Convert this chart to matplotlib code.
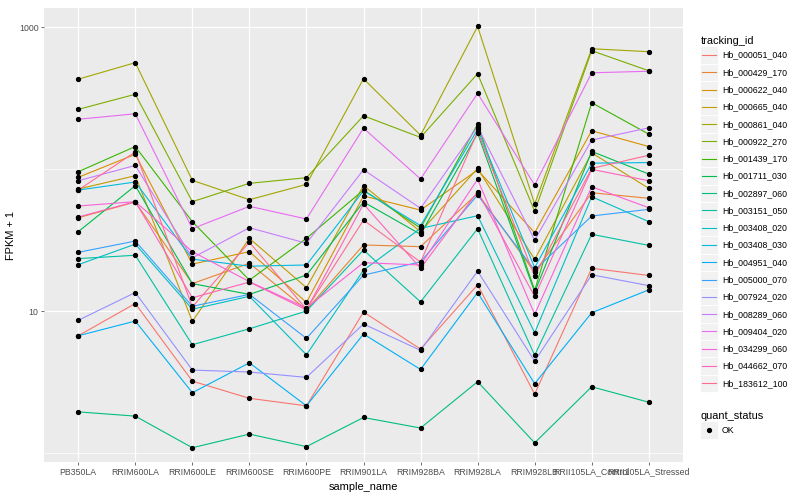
import numpy as np
import matplotlib
matplotlib.use('Agg')
import matplotlib.pyplot as plt
from matplotlib.lines import Line2D
from matplotlib.patches import Rectangle
from matplotlib.legend_handler import HandlerBase
from matplotlib.ticker import FixedLocator, NullFormatter

plt.rcParams['font.family'] = ['Liberation Sans', 'DejaVu Sans']

samples = ['PB350LA', 'RRIM600LA', 'RRIM600LE', 'RRIM600SE', 'RRIM600PE',
           'RRIM901LA', 'RRIM928BA', 'RRIM928LA', 'RRIM928LB',
           'RRII105LA_Control', 'RRII105LA_Stressed']

# FPKM + 1
hb_000051_040 = [6.70, 11.3, 3.21, 2.43, 2.15, 9.84, 5.40, 15.3, 2.60, 20.0, 17.8]
hb_000429_170 = [45.4, 58.6, 15.6, 21.7, 10.2, 29.2, 28.4, 67.4, 18.7, 68.1, 62.2]
hb_000622_040 = [87.4, 127, 21.4, 26.2, 11.5, 64.6, 51.4, 98.4, 35.6, 186, 144]
hb_000665_040 = [72.3, 89.7, 8.46, 32.5, 14.6, 76.5, 36.2, 101, 23.1, 130, 73.1]
hb_000861_040 = [429, 561, 83.2, 60.8, 78.0, 432, 173, 1010, 56.7, 703, 670]
hb_000922_270 = [263, 336, 58.9, 79.3, 86.9, 237, 167, 469, 50.4, 681, 492]
hb_001439_170 = [95.7, 144, 42.6, 16.5, 32.5, 71.1, 38.4, 207, 14.0, 293, 176]
hb_001711_030 = [36.2, 76.3, 15.6, 13.1, 17.9, 58.6, 34.7, 178, 13.6, 133, 92.2]
hb_002897_060 = [1.95, 1.82, 1.09, 1.36, 1.11, 1.78, 1.50, 3.18, 1.18, 2.93, 2.28]
hb_003151_050 = [23.4, 24.7, 5.79, 7.50, 10.0, 26.9, 11.6, 38.0, 4.88, 34.7, 29.0]
hb_003408_020 = [21.2, 29.6, 10.3, 12.7, 4.92, 19.4, 38.2, 46.9, 7.03, 63.8, 42.6]
hb_003408_030 = [71.1, 81.0, 23.2, 20.7, 21.1, 70.3, 39.9, 190, 20.2, 110, 111]
hb_004951_040 = [6.70, 8.50, 2.66, 4.32, 2.15, 6.89, 3.88, 13.5, 3.08, 9.73, 14.1]
hb_005000_070 = [25.9, 31.1, 10.8, 13.1, 6.42, 17.9, 22.2, 65.6, 19.4, 46.7, 52.0]
hb_007924_020 = [8.60, 13.5, 3.84, 3.72, 3.41, 8.10, 5.29, 19.1, 4.44, 18.0, 15.1]
hb_008289_060 = [82.7, 106, 23.7, 38.6, 30.0, 98.9, 52.9, 199, 31.6, 160, 195]
hb_009404_020 = [224, 245, 38.0, 54.6, 44.5, 194, 85.1, 341, 77.1, 476, 488]
hb_034299_060 = [54.9, 58.9, 26.2, 16.1, 10.5, 21.9, 21.1, 84.6, 9.48, 75.0, 53.4]
hb_044662_070 = [45.9, 58.9, 12.4, 16.0, 10.2, 56.7, 20.0, 69.2, 12.7, 99.5, 82.7]
hb_183612_100 = [71.1, 132, 10.7, 30.5, 10.3, 43.7, 22.1, 183, 17.6, 101, 125]

tracking_ids = ['Hb_000051_040', 'Hb_000429_170', 'Hb_000622_040', 'Hb_000665_040',
                'Hb_000861_040', 'Hb_000922_270', 'Hb_001439_170', 'Hb_001711_030',
                'Hb_002897_060', 'Hb_003151_050', 'Hb_003408_020', 'Hb_003408_030',
                'Hb_004951_040', 'Hb_005000_070', 'Hb_007924_020', 'Hb_008289_060',
                'Hb_009404_020', 'Hb_034299_060', 'Hb_044662_070', 'Hb_183612_100']
series = [hb_000051_040, hb_000429_170, hb_000622_040, hb_000665_040,
          hb_000861_040, hb_000922_270, hb_001439_170, hb_001711_030,
          hb_002897_060, hb_003151_050, hb_003408_020, hb_003408_030,
          hb_004951_040, hb_005000_070, hb_007924_020, hb_008289_060,
          hb_009404_020, hb_034299_060, hb_044662_070, hb_183612_100]

# ggplot default hue palette, 20 levels
colours = ['#F8766D', '#EA8331', '#D89000', '#C09B00', '#A3A500', '#7CAE00',
           '#39B600', '#00BB4E', '#00BF7D', '#00C1A3', '#00BFC4', '#00BAE0',
           '#00B0F6', '#35A2FF', '#9590FF', '#C77CFF', '#E76BF3', '#FA62DB',
           '#FF62BC', '#FF6C91']


class KeyBox(HandlerBase):
    def create_artists(self, legend, orig_handle, xdescent, ydescent,
                       width, height, fontsize, trans):
        box = Rectangle((-xdescent, -ydescent), width, height,
                        facecolor='#F2F2F2', edgecolor='white', lw=0.6,
                        transform=trans)
        y = -ydescent + height / 2
        if orig_handle.get_linestyle() == 'None':
            mark = Line2D([-xdescent + width / 2], [y], marker='o', ls='None',
                          color='black', ms=2.8, transform=trans)
        else:
            mark = Line2D([-xdescent + 1.5, -xdescent + width - 1.5], [y, y],
                          color=orig_handle.get_color(), lw=0.8, transform=trans)
        return [box, mark]


fig = plt.figure(figsize=(8, 5), dpi=100)
ax = fig.add_axes([44 / 800, 1 - 462 / 500, (683 - 44) / 800, (462 - 8) / 500])
ax.set_facecolor('#EBEBEB')

x = np.arange(len(samples))
lines = []
for tid, vals, col in zip(tracking_ids, series, colours):
    ln, = ax.plot(x, vals, color=col, lw=0.8, label=tid, zorder=2)
    lines.append(ln)
for vals in series:
    ax.plot(x, vals, 'o', color='black', ms=2.8, zorder=3)

ax.set_yscale('log')
ax.set_ylim(0.865, 1361)
ax.set_xlim(-0.6, len(samples) - 0.4)
ax.set_xticks(x)
ax.set_xticklabels(samples)
ax.set_yticks([10, 1000])
ax.set_yticklabels(['10', '1000'])
ax.yaxis.set_minor_locator(FixedLocator([1, 100]))
ax.yaxis.set_minor_formatter(NullFormatter())
ax.tick_params(which='minor', length=0)
ax.tick_params(which='major', length=2.5, width=0.5, color='#333333',
               labelcolor='#4D4D4D', labelsize=6.3, pad=1.5)
ax.grid(which='major', color='white', lw=0.9)
ax.grid(which='minor', color='white', lw=0.5)
ax.set_axisbelow(True)
for s in ax.spines.values():
    s.set_visible(False)

ax.set_xlabel('sample_name', fontsize=7.9, labelpad=4)
ax.set_ylabel('FPKM + 1', fontsize=7.9, labelpad=2)

legend_style = dict(loc='upper left', title_fontsize=7.9, fontsize=6.3,
                    frameon=False, borderpad=0, labelspacing=0,
                    handlelength=1.98, handleheight=2.66, handletextpad=0.5,
                    alignment='left', handler_map={Line2D: KeyBox()})
leg1 = fig.legend(handles=lines, title='tracking_id',
                  bbox_to_anchor=(696 / 800, 1 - 32 / 500), **legend_style)
ok = Line2D([], [], marker='o', ls='None', color='black', ms=2.8)
leg2 = fig.legend(handles=[ok], labels=['OK'], title='quant_status',
                  bbox_to_anchor=(696 / 800, 1 - 407 / 500), **legend_style)

fig.savefig('out.png', dpi=100)
